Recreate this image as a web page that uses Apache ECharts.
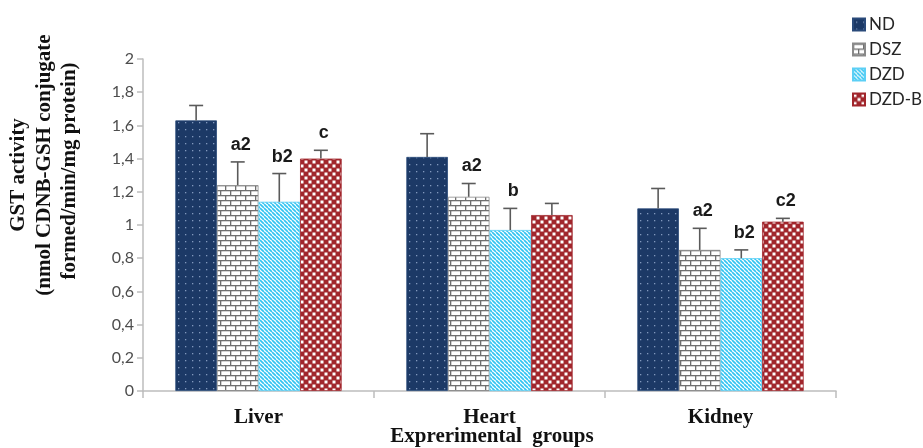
<!DOCTYPE html>
<html>
<head>
<meta charset="utf-8">
<script src="https://cdn.jsdelivr.net/npm/echarts@6/dist/echarts.min.js"></script>
<style>
  html, body { margin: 0; padding: 0; background: #fff; }
  #chart { width: 923px; height: 448px; }
</style>
</head>
<body>
<div id="chart"></div>
<script>
// GST activity by organ and experimental group (mean + SD)
const categories = ['Liver', 'Heart', 'Kidney'];
const seriesNames = ['ND', 'DSZ', 'DZD', 'DZD-B'];
const ndMean   = [1.63, 1.41, 1.10];
const dszMean  = [1.24, 1.17, 0.85];
const dzdMean  = [1.14, 0.97, 0.80];
const dzdbMean = [1.40, 1.06, 1.02];
const ndErr    = [0.09, 0.14, 0.12];
const dszErr   = [0.14, 0.08, 0.13];
const dzdErr   = [0.17, 0.13, 0.05];
const dzdbErr  = [0.05, 0.07, 0.02];
// significance letters shown above each bar ('' = none)
const ndSig    = ['', '', ''];
const dszSig   = ['a2', 'a2', 'a2'];
const dzdSig   = ['b2', 'b', 'b2'];
const dzdbSig  = ['c', '', 'c2'];
const yTicks   = [0, 0.2, 0.4, 0.6, 0.8, 1, 1.2, 1.4, 1.6, 1.8, 2];

const means = [ndMean, dszMean, dzdMean, dzdbMean];
const errs = [ndErr, dszErr, dzdErr, dzdbErr];
const sigs = [ndSig, dszSig, dzdSig, dzdbSig];

// ---- fill patterns -------------------------------------------------
function tile(w, h, draw) {
  const c = document.createElement('canvas');
  c.width = w; c.height = h;
  draw(c.getContext('2d'), w, h);
  return c;
}
const ndTile = tile(7, 7, (g, w, h) => {
  g.fillStyle = '#1C3966'; g.fillRect(0, 0, w, h);
  g.fillStyle = '#8299BD'; g.fillRect(3, 3, 1.3, 1.3);
});
const dszTile = tile(10, 10, (g, w, h) => {
  g.fillStyle = '#ffffff'; g.fillRect(0, 0, w, h);
  g.fillStyle = '#6F6F6F';
  g.fillRect(0, 0, w, 1.3);
  g.fillRect(0, 5, w, 1.3);
  g.fillRect(0, 0, 1.3, 5);
  g.fillRect(5, 5, 1.3, 5);
});
const dzdTile = tile(4, 4, (g, w, h) => {
  g.fillStyle = '#ffffff'; g.fillRect(0, 0, w, h);
  g.strokeStyle = '#33C4F2'; g.lineWidth = 1.7;
  for (let x0 = -4; x0 <= 4; x0 += 4) {
    g.beginPath(); g.moveTo(x0, 0); g.lineTo(x0 + 4, 4); g.stroke();
  }
});
const dzdbTile = tile(8, 8, (g, w, h) => {
  g.fillStyle = '#A1262C'; g.fillRect(0, 0, w, h);
  g.fillStyle = '#ffffff';
  g.fillRect(0.5, 0.5, 3, 3);
  g.fillRect(4.5, 4.5, 3, 3);
});
const fills = [ndTile, dszTile, dzdTile, dzdbTile].map(t => ({ image: t, repeat: 'repeat' }));
const borders = ['#2A4A7A', '#8A8A8A', '#5CCFF5', '#A1262C'];

const GAP = 0.28; // share of a category left empty around the group

const barSeries = seriesNames.map((name, i) => ({
  name,
  type: 'bar',
  data: means[i],
  barGap: '0%',
  barCategoryGap: (GAP * 100) + '%',
  itemStyle: { color: fills[i], borderColor: borders[i], borderWidth: 0.8 },
  z: 2
}));

// error bars (upper whisker) plus significance letters
const errSeries = seriesNames.map((name, i) => ({
  name: name + '-err',
  type: 'custom',
  z: 3,
  silent: true,
  data: categories.map((c, k) => [k, means[i][k], errs[i][k]]),
  renderItem(params, api) {
    const k = api.value(0);
    const catW = api.size([1, 0])[0];
    const barW = catW * (1 - GAP) / 4;
    const base = api.coord([k, api.value(1)]);
    const top = api.coord([k, api.value(1) + api.value(2)]);
    const cx = base[0] - catW * (1 - GAP) / 2 + (i + 0.5) * barW;
    const cap = 7;
    const style = { stroke: '#5A5A5A', lineWidth: 1.6 };
    const children = [
      { type: 'line', shape: { x1: cx, y1: base[1], x2: cx, y2: top[1] }, style },
      { type: 'line', shape: { x1: cx - cap, y1: top[1], x2: cx + cap, y2: top[1] }, style }
    ];
    const label = sigs[i][k];
    if (label) {
      children.push({
        type: 'text',
        style: {
          text: label, x: cx + 3, y: top[1] - 8,
          align: 'center', verticalAlign: 'bottom',
          fill: '#1a1a1a', font: 'bold 18px "Liberation Sans", Arial, sans-serif'
        }
      });
    }
    return { type: 'group', children };
  }
}));

const serifBold = '"Liberation Serif", "Times New Roman", serif';

const chart = echarts.init(document.getElementById('chart'), null, { renderer: 'canvas' });
chart.setOption({
  animation: false,
  backgroundColor: '#ffffff',
  grid: { left: 143, right: 87, top: 59, bottom: 57 },
  legend: {
    data: seriesNames,
    orient: 'vertical',
    left: 852,
    top: 16,
    padding: 0,
    itemWidth: 12,
    itemHeight: 12,
    itemGap: 8,
    icon: 'rect',
    textStyle: { fontSize: 17, color: '#262626', fontFamily: 'Lato, "Liberation Sans", sans-serif', padding: [0, 0, 0, -1] }
  },
  xAxis: {
    type: 'category',
    data: categories,
    axisLine: { lineStyle: { color: '#BDBDBD', width: 1.5 } },
    axisTick: { show: true, length: 7, lineStyle: { color: '#BDBDBD', width: 1.5 } },
    axisLabel: {
      margin: 16,
      color: '#111',
      fontSize: 21,
      fontWeight: 'bold',
      fontFamily: serifBold
    }
  },
  yAxis: {
    type: 'value',
    min: 0,
    max: 2,
    interval: 0.2,
    splitLine: { show: false },
    axisLine: { show: true, lineStyle: { color: '#BDBDBD', width: 1.5 } },
    axisTick: { show: true, length: 6, lineStyle: { color: '#BDBDBD', width: 1.5 } },
    axisLabel: {
      margin: 9,
      color: '#4D4D4D',
      fontSize: 16,
      fontFamily: 'Lato, "Liberation Sans", sans-serif',
      formatter: v => {
        const t = yTicks.find(y => Math.abs(y - v) < 1e-9);
        return String(t !== undefined ? t : v).replace('.', ',');
      }
    }
  },
  graphic: [
    {
      type: 'text', x: 492, y: 437,
      style: {
        text: 'Exprerimental  groups', align: 'center', verticalAlign: 'middle',
        fill: '#111', font: 'bold 21px ' + serifBold
      }
    },
    {
      type: 'text', x: 19, y: 175, rotation: Math.PI / 2,
      style: { text: 'GST activity', align: 'center', verticalAlign: 'middle', fill: '#111',
        font: 'bold 21px ' + serifBold }
    },
    {
      type: 'text', x: 45, y: 165, rotation: Math.PI / 2,
      style: { text: '(nmol CDNB-GSH conjugate', align: 'center', verticalAlign: 'middle', fill: '#111',
        font: 'bold 21px ' + serifBold }
    },
    {
      type: 'text', x: 70, y: 171, rotation: Math.PI / 2,
      style: { text: 'formed/min/mg protein)', align: 'center', verticalAlign: 'middle', fill: '#111',
        font: 'bold 21px ' + serifBold }
    }
  ],
  series: [...barSeries, ...errSeries]
});
</script>
</body>
</html>
